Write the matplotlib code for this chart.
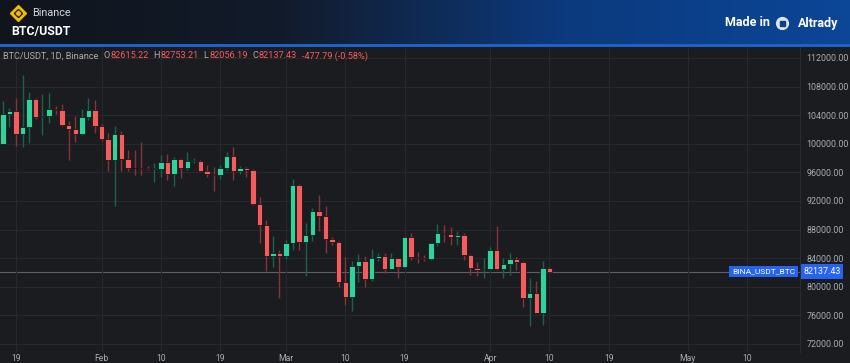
import numpy as np
import pandas as pd
import matplotlib
matplotlib.use("Agg")
import matplotlib.pyplot as plt
import matplotlib.dates as mdates
from matplotlib.colors import LinearSegmentedColormap

plt.rcParams['font.family'] = ['Roboto', 'DejaVu Sans']

# daily candles, BTC/USDT 1D, 2025-01-17 .. 2025-04-10
start_date = "2025-01-17"
opens = [99980, 104100, 104550, 101350, 102300, 106200, 103700, 103950, 104800, 104700,
         102600, 102100, 101350, 103750, 104700, 102450, 100650, 97700, 101350, 97850,
         96600, 96550, 96500, 96450, 96500, 97450, 95800, 97850, 96600, 97550,
         97600, 96200, 95800, 95650, 96600, 98300, 96200, 96600, 96300, 91600,
         88700, 84300, 84700, 84350, 86100, 94300, 86250, 87250, 90600, 89900,
         86700, 86250, 80700, 78600, 82900, 83600, 81100, 84000, 84300, 82500,
         84000, 82750, 86950, 84150, 84050, 83850, 86100, 87500, 87400, 86950,
         87250, 84450, 82650, 82400, 82550, 85150, 82500, 83150, 83850, 83500,
         78400, 79150, 76350, 82615.22]
highs = [105950, 105000, 106400, 109600, 107250, 106400, 106900, 107150, 105300, 105500,
         103200, 103850, 104800, 106450, 106100, 102750, 101500, 102500, 101750, 99200,
         99200, 100200, 96900, 97300, 98400, 98550, 98150, 98000, 98850, 98000,
         97700, 97050, 96750, 97000, 98850, 99550, 96900, 96700, 96500, 92550,
         89350, 87100, 85150, 86550, 95050, 94400, 88900, 91000, 92850, 91300,
         86950, 86400, 84150, 83600, 84550, 84300, 85300, 84700, 84750, 84750,
         84050, 87000, 87500, 84850, 84450, 86150, 88800, 88650, 88350, 87800,
         87500, 84550, 83500, 84000, 85550, 88500, 84000, 84750, 84200, 83600,
         81300, 80850, 83600, 82753.21]
lows = [99950, 102300, 99650, 99550, 100100, 103450, 101300, 102850, 104150, 102500,
        97800, 100300, 101300, 103300, 101500, 100350, 96200, 91250, 96200, 96200,
        95650, 95650, 96300, 94700, 95350, 94900, 94100, 95250, 96300, 97300,
        96150, 95350, 93400, 95100, 96400, 94900, 95800, 95350, 91400, 86100,
        82200, 82750, 78400, 83900, 85150, 85100, 81500, 86400, 87800, 84700,
        85850, 80000, 77450, 76600, 80700, 79950, 80800, 83600, 81950, 82450,
        81200, 82650, 83750, 83300, 83650, 83800, 85700, 86250, 85850, 85850,
        83750, 81650, 81550, 81250, 82450, 82300, 81200, 81650, 82350, 77150,
        74500, 76300, 74650, 82056.19]
closes = [104100, 104550, 101350, 102300, 106200, 103700, 103950, 104800, 104700, 102600,
          102100, 101350, 103750, 104700, 102450, 100650, 97700, 101350, 97850, 96600,
          96550, 96500, 96450, 96500, 97450, 95800, 97850, 96600, 97550, 97600,
          96200, 95800, 95650, 96600, 98300, 96200, 96600, 96300, 91600, 88700,
          84300, 84700, 84350, 86100, 94300, 86250, 87250, 90600, 89900, 86700,
          86250, 80700, 78600, 82900, 83600, 81100, 84000, 84300, 82500, 84000,
          82750, 86950, 84150, 84050, 83850, 86100, 87500, 87400, 86950, 87250,
          84450, 82650, 82400, 82550, 85150, 82500, 83150, 83850, 83500, 78400,
          79150, 76350, 82615.22, 82137.43]

price_ticks = [72000, 76000, 80000, 84000, 88000, 92000, 96000, 100000, 104000, 108000, 112000]
date_ticks = ["2025-01-19", "2025-02-01", "2025-02-10", "2025-02-19", "2025-03-01", "2025-03-10",
              "2025-03-19", "2025-04-01", "2025-04-10", "2025-04-19", "2025-05-01", "2025-05-10"]
date_labels = ["19", "Feb", "10", "19", "Mar", "10", "19", "Apr", "10", "19", "May", "10"]
last_price = 82137.43

BG = '#1b1c20'
UP, DOWN = '#2fd39b', '#f45c5e'
UP_WICK, DOWN_WICK = '#1c6249', '#83353a'
GRID = '#27282d'
TXT = '#a9acb4'

W, H = 850, 363
fig = plt.figure(figsize=(8.5, 3.63), dpi=100, facecolor=BG)


def fx(px):
    return px / W


def fy(py):
    return 1 - py / H


# header band with gradient
hdr = fig.add_axes([0, fy(44), 1, 44 / H])
cmap = LinearSegmentedColormap.from_list('hdr', ['#10151c', '#121b2b', '#0c3a7e', '#0b4697'])
hdr.imshow(np.linspace(0, 1, 256)[None, :], aspect='auto', cmap=cmap, extent=[0, 1, 0, 1])
hdr.set_xlim(0, 1)
hdr.set_ylim(0, 1)
hdr.axis('off')
line = fig.add_axes([0, fy(47), 1, 3 / H])
line.set_facecolor('#1c62c9')
line.set_xticks([])
line.set_yticks([])
for s in line.spines.values():
    s.set_visible(False)

# binance logo (simplified, markers) + texts
lx, lyy = 18 / W, 1 - 13 / 44
hdr.plot([lx], [lyy], marker='D', ms=8.5, color='#f0b90b', transform=hdr.transAxes)
hdr.plot([lx], [lyy], marker='D', ms=4.2, color='#141a22', transform=hdr.transAxes)
hdr.plot([lx], [lyy], marker='D', ms=2.4, color='#f0b90b', transform=hdr.transAxes)
fig.text(fx(32), fy(13), 'Binance', color='#d6d8dd', fontsize=7.8, ha='left', va='center')
fig.text(fx(11), fy(31), 'BTC/USDT', color='white', fontsize=8.8, fontweight='bold', ha='left', va='center')
fig.text(fx(725), fy(23), 'Made in', color='white', fontsize=9, fontweight='bold', ha='left', va='center')
fig.text(fx(798), fy(23), 'Altrady', color='white', fontsize=9, fontweight='bold', ha='left', va='center')
hdr.plot([782 / W], [1 - 23 / 44], marker='o', ms=8.5, color='#dbe4f3', transform=hdr.transAxes)
hdr.plot([782 / W], [1 - 23 / 44], marker='s', ms=3.6, color='#0c3f88', transform=hdr.transAxes)

# main chart
ax = fig.add_axes([0, fy(352), fx(800), (352 - 47) / H])
ax.set_facecolor(BG)
dates = pd.date_range(start_date, periods=len(opens))
x = mdates.date2num(dates)
o = np.array(opens)
c = np.array(closes)
hi = np.array(highs)
lo = np.array(lows)
up = c >= o
wick_cols = np.where(up, UP_WICK, DOWN_WICK)
body_cols = np.where(up, UP, DOWN)
ax.vlines(x, lo, hi, colors=wick_cols, lw=1.0, zorder=2)
body_h = np.maximum(np.abs(c - o), 130)
body_b = np.minimum(o, c)
ax.bar(x, body_h, bottom=body_b, width=0.82, color=body_cols, edgecolor='#0d0e11',
       linewidth=0.5, zorder=3)

x0 = mdates.date2num(pd.Timestamp(start_date))
ax.set_xlim(x0 - 0.43, x0 + 121.05)
ax.set_ylim(70881, 113538)

ax.set_yticks(price_ticks)
ax.set_yticklabels([f"{p:.2f}" for p in price_ticks])
ax.yaxis.tick_right()
ax.tick_params(axis='y', length=0, pad=4.5, labelsize=6.4, labelcolor=TXT)
ax.set_xticks(mdates.date2num(pd.to_datetime(date_ticks)))
ax.set_xticklabels(date_labels)
ax.tick_params(axis='x', length=0, pad=1.5, labelsize=6.2, labelcolor=TXT)
ax.grid(True, color=GRID, lw=0.8, zorder=0)
for name, s in ax.spines.items():
    s.set_visible(name == 'right')
    s.set_color('#2b2c31')
    s.set_linewidth(0.8)

ax.axhline(last_price, color='#5c5f67', lw=0.8, zorder=1)

# price tags
yl = fy(271.5)
fig.text(fx(763.5), yl, 'BINA_USDT_BTC', color='white', fontsize=6.0, ha='center', va='center',
         bbox=dict(boxstyle='square,pad=0.32', fc='#2563f0', ec='none'))
fig.text(fx(822), yl, f"{last_price:.2f}", color='white', fontsize=6.4, ha='center', va='center',
         bbox=dict(boxstyle='square,pad=0.3', fc='#2563f0', ec='none'))

# legend line, pieces placed one after another
ly = fy(56)
chg = closes[-1] - opens[-1]
legend_parts = [('BTC/USDT, 1D, Binance', TXT, 5), ('O', TXT, 0.5), (f"{opens[-1]:.2f}", DOWN, 5),
                ('H', TXT, 0.5), (f"{highs[-1]:.2f}", DOWN, 5),
                ('L', TXT, 0.5), (f"{lows[-1]:.2f}", DOWN, 5),
                ('C', TXT, 0.5), (f"{closes[-1]:.2f}", DOWN, 5),
                (f"{chg:.2f} ({chg / opens[-1] * 100:.2f}%)", DOWN, 0)]
renderer = fig.canvas.get_renderer()
cur = 3
for t, col, gap in legend_parts:
    tx = fig.text(fx(cur), ly, t, color=col, fontsize=6.6, va='center')
    cur += tx.get_window_extent(renderer).width + gap

fig.savefig('out.png', dpi=100, facecolor=BG)
